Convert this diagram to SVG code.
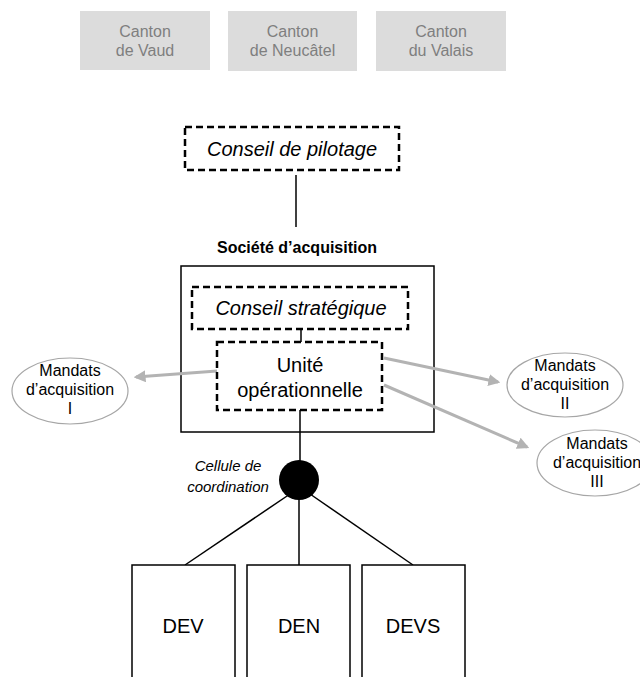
<svg xmlns="http://www.w3.org/2000/svg" width="640" height="677" viewBox="0 0 640 677">
  <defs>
    <style>
      .canton rect { fill: #dcdcdc; stroke: none; }
      .canton text { fill: #7f7f7f; font-family: "Liberation Sans", Arial, sans-serif; font-size: 16px; text-anchor: middle; }
      .dashed { fill: #ffffff; stroke: #000000; stroke-width: 2.5; stroke-dasharray: 7 4; }
      .solid { fill: #ffffff; stroke: #000000; stroke-width: 1.5; }
      .frame { fill: none; stroke: #000000; stroke-width: 1.5; }
      .lbl { font-family: "Liberation Sans", Arial, sans-serif; fill: #000000; text-anchor: middle; }
      .it { font-style: italic; }
      .mandat ellipse { fill: #ffffff; stroke: #a6a6a6; stroke-width: 1.2; }
      .mandat text { font-family: "Liberation Sans", Arial, sans-serif; font-size: 16px; fill: #000000; text-anchor: middle; }
      .link { stroke: #000000; stroke-width: 1.5; fill: none; }
      .arrow { stroke: #b3b3b3; stroke-width: 3; fill: none; marker-end: url(#head); }
    </style>
    <marker id="head" viewBox="0 0 10 10" refX="8" refY="5" markerWidth="4" markerHeight="4" orient="auto" markerUnits="strokeWidth">
      <path d="M0,0 L10,5 L0,10 Z" fill="#b3b3b3"/>
    </marker>
  </defs>

  <!-- cantons -->
  <g id="canton-vaud" class="canton">
    <rect x="80" y="11" width="130" height="59"/>
    <text x="145" y="37">Canton</text>
    <text x="145" y="56">de Vaud</text>
  </g>
  <g id="canton-neuchatel" class="canton">
    <rect x="228" y="11" width="129" height="60"/>
    <text x="292.5" y="37">Canton</text>
    <text x="292.5" y="56">de Neucâtel</text>
  </g>
  <g id="canton-valais" class="canton">
    <rect x="376" y="11" width="130" height="60"/>
    <text x="441" y="37">Canton</text>
    <text x="441" y="56">du Valais</text>
  </g>

  <!-- société frame (outline only, links pass over it) -->
  <g id="societe-acquisition">
    <text class="lbl" x="297" y="253" font-size="16" font-weight="bold">Société d’acquisition</text>
    <rect class="frame" x="181" y="266" width="253" height="166"/>
  </g>

  <!-- connectors -->
  <g id="connectors">
    <line class="link" x1="296" y1="175" x2="296" y2="227"/>
    <line class="link" x1="301" y1="329" x2="301" y2="342"/>
    <line class="link" x1="300" y1="410" x2="300" y2="462"/>
    <line class="link" x1="290" y1="494" x2="185" y2="565"/>
    <line class="link" x1="299" y1="498" x2="299" y2="565"/>
    <line class="link" x1="310" y1="494" x2="413" y2="565"/>
    <line class="arrow" x1="217" y1="371" x2="136" y2="377"/>
    <line class="arrow" x1="384" y1="358" x2="498" y2="382"/>
    <line class="arrow" x1="384" y1="385" x2="527" y2="447"/>
  </g>

  <g id="conseil-pilotage">
    <rect class="dashed" x="185" y="127" width="214" height="43"/>
    <text class="lbl it" x="292" y="156" font-size="20">Conseil de pilotage</text>
  </g>

  <g id="conseil-strategique">
    <rect class="dashed" x="192" y="287" width="216" height="42"/>
    <text class="lbl it" x="301" y="315" font-size="20">Conseil stratégique</text>
  </g>

  <g id="unite-operationnelle">
    <rect class="dashed" x="217" y="342" width="165" height="68"/>
    <text class="lbl" x="300" y="372" font-size="20">Unité</text>
    <text class="lbl" x="300" y="397" font-size="20">opérationnelle</text>
  </g>

  <g id="mandats-1" class="mandat">
    <ellipse cx="70" cy="391" rx="58" ry="33"/>
    <text x="70" y="376">Mandats</text>
    <text x="70" y="395">d’acquisition</text>
    <text x="70" y="414">I</text>
  </g>
  <g id="mandats-2" class="mandat">
    <ellipse cx="565" cy="385" rx="58" ry="32"/>
    <text x="565" y="371">Mandats</text>
    <text x="565" y="390">d’acquisition</text>
    <text x="565" y="409">II</text>
  </g>
  <g id="mandats-3" class="mandat">
    <ellipse cx="595" cy="463" rx="58" ry="33"/>
    <text x="597" y="449">Mandats</text>
    <text x="597" y="468">d’acquisition</text>
    <text x="597" y="487">III</text>
  </g>

  <g id="cellule-coordination">
    <circle cx="299" cy="480" r="20" fill="#000000"/>
    <text class="lbl it" x="228" y="471" font-size="15">Cellule de</text>
    <text class="lbl it" x="228" y="492" font-size="15">coordination</text>
  </g>

  <g id="dev">
    <rect class="solid" x="132" y="565" width="103" height="120"/>
    <text class="lbl" x="183" y="633" font-size="20">DEV</text>
  </g>
  <g id="den">
    <rect class="solid" x="247" y="565" width="103" height="120"/>
    <text class="lbl" x="299" y="633" font-size="20">DEN</text>
  </g>
  <g id="devs">
    <rect class="solid" x="362" y="565" width="103" height="120"/>
    <text class="lbl" x="413" y="633" font-size="20">DEVS</text>
  </g>
</svg>
